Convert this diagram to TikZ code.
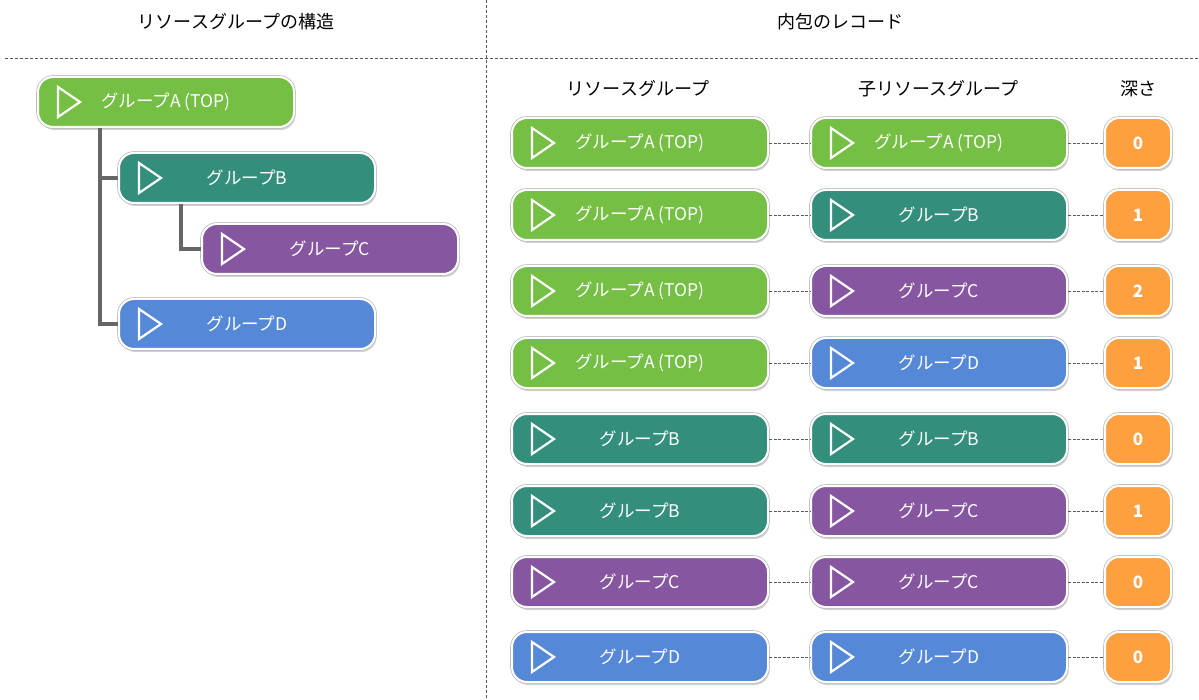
\documentclass[tikz,border=0pt]{standalone}
\usepackage{fontspec}
\setmainfont{Noto Sans CJK JP}
\usetikzlibrary{shadows}

\definecolor{grpA}{HTML}{74BF44}
\definecolor{grpB}{HTML}{338F7C}
\definecolor{grpC}{HTML}{8756A0}
\definecolor{grpD}{HTML}{5589D8}
\definecolor{depthcol}{HTML}{FFA040}
\definecolor{treeline}{HTML}{666666}

\tikzset{
  rgbox/.style={rounded corners=15pt, minimum width=256pt, minimum height=50pt,
    inner sep=0pt, draw=white, line width=2pt, fill=#1, text=white,
    font=\fontsize{17.5}{20}\selectfont,
    drop shadow={shadow xshift=1.5pt, shadow yshift=-3pt, opacity=.3, fill=black!60},
    preaction={draw=black!25, line width=3.6pt},
    path picture={\draw[white, line width=2.2pt, sharp corners, line join=miter]
      ([xshift=20pt,yshift=15pt]path picture bounding box.west) --
      ([xshift=42pt,yshift=0pt]path picture bounding box.west) --
      ([xshift=20pt,yshift=-15pt]path picture bounding box.west) -- cycle;}},
  depthbox/.style={rounded corners=14pt, minimum width=66pt, minimum height=50pt,
    inner sep=0pt, draw=white, line width=2pt, fill=depthcol, text=white,
    font=\fontsize{17}{19}\selectfont\bfseries,
    drop shadow={shadow xshift=1.5pt, shadow yshift=-3pt, opacity=.3, fill=black!60},
    preaction={draw=black!25, line width=3.6pt}},
  heading/.style={font=\fontsize{18}{21}\selectfont, text=black},
  divider/.style={draw=black!65, line width=0.8pt, dash pattern=on 3pt off 2pt},
  link/.style={draw=black!65, line width=0.8pt, dash pattern=on 3pt off 1.5pt},
  branch/.style={draw=treeline, line width=3.5pt}
}

\begin{document}
\begin{tikzpicture}[x=1pt, y=-1pt]
\useasboundingbox (0,0) rectangle (1199,700);

% Dividers
\draw[divider] (486,0) -- (486,700);
\draw[divider] (5,58) -- (1199,58);

% Headings
\node[heading] (titleL)    at (236,22)  {リソースグループの構造};
\node[heading] (titleR)    at (840,22)  {内包のレコード};
\node[heading] (colParent) at (638,89)  {リソースグループ};
\node[heading] (colChild)  at (938,89)  {子リソースグループ};
\node[heading] (colDepth)  at (1138,89) {深さ};

% Tree of resource groups
\node[rgbox=grpA] (treeA) at (166,102) {グループA (TOP)};
\node[rgbox=grpB] (treeB) at (247,178) {グループB};
\node[rgbox=grpC] (treeC) at (330,249) {グループC};
\node[rgbox=grpD] (treeD) at (247,324) {グループD};

\path ([xshift=63pt]treeA.south west) coordinate (forkA)
      ([xshift=63pt]treeB.south west) coordinate (forkB);
\draw[branch] (forkA) |- (treeB.west);
\draw[branch] (forkA) |- (treeD.west);
\draw[branch] (forkB) |- (treeC.west);

% Records: parent -- child -- depth
\node[rgbox=grpA] (p1) at (640,143) {グループA (TOP)};
\node[rgbox=grpA] (p2) at (640,215) {グループA (TOP)};
\node[rgbox=grpA] (p3) at (640,291) {グループA (TOP)};
\node[rgbox=grpA] (p4) at (640,363) {グループA (TOP)};
\node[rgbox=grpB] (p5) at (640,439) {グループB};
\node[rgbox=grpB] (p6) at (640,511) {グループB};
\node[rgbox=grpC] (p7) at (640,582) {グループC};
\node[rgbox=grpD] (p8) at (640,657) {グループD};

\node[rgbox=grpA] (c1) at (939,143) {グループA (TOP)};
\node[rgbox=grpB] (c2) at (939,215) {グループB};
\node[rgbox=grpC] (c3) at (939,291) {グループC};
\node[rgbox=grpD] (c4) at (939,363) {グループD};
\node[rgbox=grpB] (c5) at (939,439) {グループB};
\node[rgbox=grpC] (c6) at (939,511) {グループC};
\node[rgbox=grpC] (c7) at (939,582) {グループC};
\node[rgbox=grpD] (c8) at (939,657) {グループD};

\node[depthbox] (d1) at (1138,143) {0};
\node[depthbox] (d2) at (1138,215) {1};
\node[depthbox] (d3) at (1138,291) {2};
\node[depthbox] (d4) at (1138,363) {1};
\node[depthbox] (d5) at (1138,439) {0};
\node[depthbox] (d6) at (1138,511) {1};
\node[depthbox] (d7) at (1138,582) {0};
\node[depthbox] (d8) at (1138,657) {0};

% Dashed links
\draw[link] (p1) -- (c1) (c1) -- (d1);
\draw[link] (p2) -- (c2) (c2) -- (d2);
\draw[link] (p3) -- (c3) (c3) -- (d3);
\draw[link] (p4) -- (c4) (c4) -- (d4);
\draw[link] (p5) -- (c5) (c5) -- (d5);
\draw[link] (p6) -- (c6) (c6) -- (d6);
\draw[link] (p7) -- (c7) (c7) -- (d7);
\draw[link] (p8) -- (c8) (c8) -- (d8);

\end{tikzpicture}
\end{document}
